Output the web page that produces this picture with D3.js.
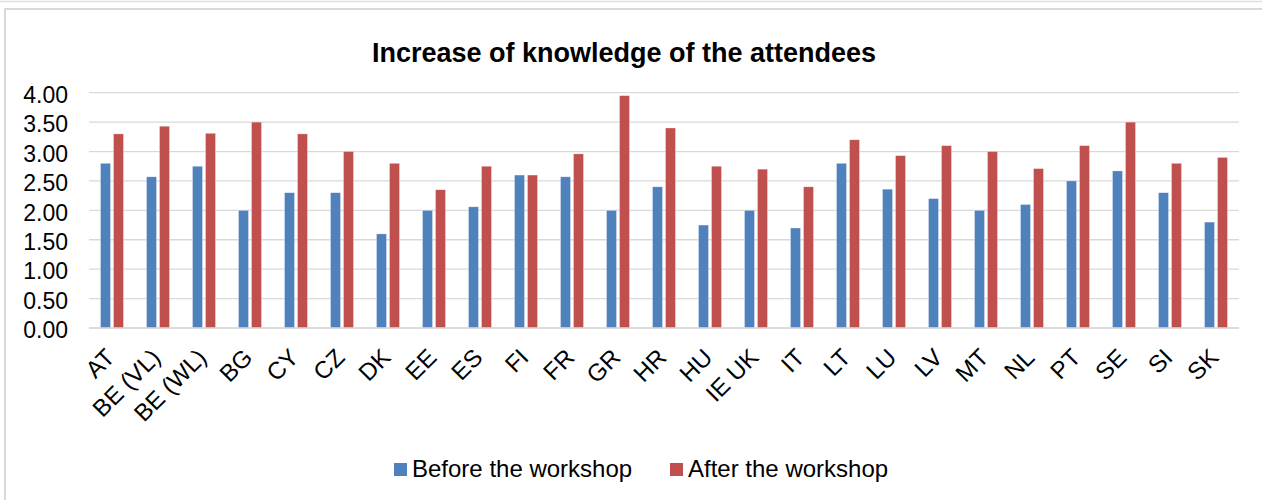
<!DOCTYPE html>
<html>
<head>
<meta charset="utf-8">
<script src="https://cdn.jsdelivr.net/npm/d3@7"></script>
<style>
  body { margin: 0; background: #fff; }
  svg text { font-family: "Liberation Sans", Arial, sans-serif; fill: #000; }
</style>
</head>
<body>
<svg id="chart" width="1262" height="500"></svg>
<script>
// chart data
var countries = ["AT", "BE (VL)", "BE (WL)", "BG", "CY", "CZ", "DK", "EE", "ES", "FI", "FR", "GR", "HR",
    "HU", "IE UK", "IT", "LT", "LU", "LV", "MT", "NL", "PT", "SE", "SI", "SK"];
var before = [2.80, 2.57, 2.75, 2.00, 2.30, 2.30, 1.60, 2.00, 2.06, 2.60, 2.57, 2.00, 2.40,
    1.75, 2.00, 1.70, 2.80, 2.36, 2.20, 2.00, 2.10, 2.50, 2.67, 2.30, 1.80];
var after = [3.30, 3.43, 3.31, 3.50, 3.30, 3.00, 2.80, 2.35, 2.75, 2.60, 2.96, 3.95, 3.40,
    2.75, 2.70, 2.40, 3.20, 2.93, 3.10, 3.00, 2.71, 3.10, 3.50, 2.80, 2.90];
var seriesNames = ["Before the workshop", "After the workshop"];
var yTicks = [0, 0.5, 1, 1.5, 2, 2.5, 3, 3.5, 4];

var colors = ["#4f81bd", "#c0504d"];

var svg = d3.select("#chart");

// frame lines
svg.append("line")
    .attr("x1", 0).attr("x2", 1262).attr("y1", 1.5).attr("y2", 1.5)
    .attr("stroke", "#e0e0e0").attr("stroke-width", 1.5);
svg.append("rect")
    .attr("x", 5).attr("y", 9).attr("width", 1270).attr("height", 520)
    .attr("fill", "none").attr("stroke", "#d9d9d9").attr("stroke-width", 2);

var plot = {left: 89, right: 1239, top: 92.7, bottom: 328};

var x = d3.scaleBand()
    .domain(countries)
    .range([plot.left, plot.right])
    .paddingInner(0.5)
    .paddingOuter(0.25);

var x1 = d3.scaleBand()
    .domain([0, 1])
    .range([0, x.bandwidth()])
    .paddingInner(0.23);

var y = d3.scaleLinear()
    .domain([0, 4])
    .range([plot.bottom, plot.top]);

// gridlines
svg.append("g")
    .selectAll("line")
    .data(yTicks)
    .join("line")
    .attr("x1", plot.left).attr("x2", plot.right)
    .attr("y1", function (d) { return y(d); })
    .attr("y2", function (d) { return y(d); })
    .attr("stroke", "#d9d9d9")
    .attr("stroke-width", 1.3);

// y axis labels
var yAxis = d3.axisLeft(y)
    .tickValues(yTicks)
    .tickFormat(d3.format(".2f"))
    .tickSize(0)
    .tickPadding(0);

var gy = svg.append("g")
    .attr("transform", "translate(68,0)")
    .call(yAxis);
gy.select(".domain").remove();
gy.selectAll("text")
    .style("font-size", "23px")
    .attr("dy", "0.42em");

// bars
var groups = svg.append("g")
    .selectAll("g")
    .data(countries)
    .join("g")
    .attr("transform", function (d) { return "translate(" + x(d) + ",0)"; });

groups.selectAll("rect")
    .data(function (d, i) { return [before[i], after[i]]; })
    .join("rect")
    .attr("x", function (d, j) { return x1(j); })
    .attr("width", x1.bandwidth())
    .attr("y", function (d) { return y(d); })
    .attr("height", function (d) { return y(0) - y(d); })
    .attr("fill", function (d, j) { return colors[j]; })
    .attr("stroke", "#ffffff")
    .attr("stroke-opacity", 0.5)
    .attr("stroke-width", 0.6);

// x axis
var xAxis = d3.axisBottom(x).tickSize(0).tickPadding(0);
var gx = svg.append("g")
    .attr("transform", "translate(0," + plot.bottom + ")")
    .call(xAxis);
gx.select(".domain")
    .attr("stroke", "#d9d9d9")
    .attr("stroke-width", 1.5)
    .attr("d", "M" + plot.left + ",0H" + plot.right);
gx.selectAll("text")
    .style("font-size", "24px")
    .attr("text-anchor", "end")
    .attr("dy", null)
    .attr("y", 0)
    .attr("transform", "translate(4,31) rotate(-45)");

// title
svg.append("text")
    .attr("x", 624)
    .attr("y", 62)
    .attr("text-anchor", "middle")
    .style("font-size", "27px")
    .style("font-weight", "bold")
    .text("Increase of knowledge of the attendees");

// legend
var legendX = [394, 670];
var legend = svg.append("g")
    .selectAll("g")
    .data(seriesNames)
    .join("g")
    .attr("transform", function (d, i) { return "translate(" + legendX[i] + ",463)"; });
legend.append("rect")
    .attr("width", 13).attr("height", 13)
    .attr("fill", function (d, i) { return colors[i]; });
legend.append("text")
    .attr("x", 18)
    .attr("y", 14)
    .style("font-size", "24px")
    .text(function (d) { return d; });
</script>
</body>
</html>
